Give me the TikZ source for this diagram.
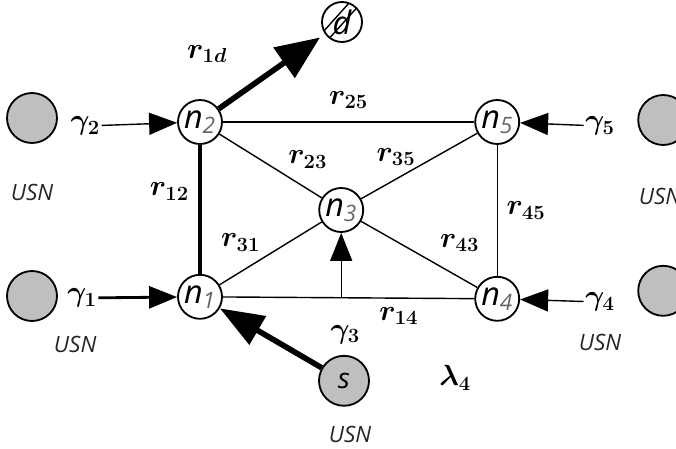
\documentclass[tikz,border=0pt]{standalone}
\usepackage{amsmath,amssymb}
\usepackage{fontspec}
\setsansfont{Open Sans}
\usepackage{tikz}
\usetikzlibrary{arrows.meta}

\begin{document}
\begin{tikzpicture}[every node/.style={font=\fontsize{21}{24}\selectfont\boldmath},
	>={Triangle[length=7mm, width=5.5mm]},
	v/.style={draw, circle, line width=1.3pt, fill=white, minimum size=1.1cm, inner sep=0pt, font=\fontsize{23}{25}\selectfont\sffamily\itshape},
	usn/.style={draw, circle, line width=1.3pt, fill=gray!50, minimum size=1.25cm, inner sep=0pt},
	usnlab/.style={font=\fontsize{16}{18}\selectfont\sffamily\itshape, text=black!85},
	edge/.style={line width=1pt}]
	\useasboundingbox (0,0) rectangle (16.9,11.2);
	\node[v] (n2) at (5.0,8.15) {n\textsubscript{\color{black!60}2}};
	\node[v] (n5) at (12.43,8.15) {n\textsubscript{\color{black!60}5}};
	\node[v] (n3) at (8.53,5.95) {n\textsubscript{\color{black!60}3}};
	\node[v] (n1) at (5.0,3.78) {n\textsubscript{\color{black!60}1}};
	\node[v] (n4) at (12.43,3.73) {n\textsubscript{\color{black!60}4}};
	\node[v, minimum size=1cm, path picture={
		\draw[line width=1pt] ([xshift=-4mm]path picture bounding box.south) -- ([xshift=5mm]path picture bounding box.north);
		\draw[line width=1pt] ([xshift=-7mm]path picture bounding box.south) -- ([xshift=2mm]path picture bounding box.north);}] (d) at (8.55,10.65) {d};
	\node[usn, font=\fontsize{20}{22}\selectfont\sffamily\itshape] (S) at (8.6,1.68) {s};
	\node[usn] (u2) at (0.8,8.25) {};
	\node[usn] (u1) at (0.8,3.8) {};
	\node[usn] (u5) at (16.58,8.2) {};
	\node[usn] (u4) at (16.58,3.93) {};
	\node[usnlab] (t2) at (0.8,6.4) {USN};
	\node[usnlab] (t1) at (1.88,2.58) {USN};
	\node[usnlab] (t5) at (16.5,6.28) {USN};
	\node[usnlab] (t4) at (15.0,2.65) {USN};
	\node[usnlab] (ts) at (8.75,0.33) {USN};
	\node[inner sep=1pt] (g2) at (2.13,8.05) {$\gamma_2$};
	\node[inner sep=1pt] (g1) at (2.05,3.75) {$\gamma_1$};
	\node[inner sep=1pt] (g5) at (15.0,8.05) {$\gamma_5$};
	\node[inner sep=1pt] (g4) at (15.0,3.65) {$\gamma_4$};
	\node (g3) at (8.63,2.83) {$\gamma_3$};
	\node (lam) at (11.38,1.75) {$\lambda_4$};
	\coordinate (c3) at (8.53,3.78);
	% links between the nodes
	\draw[edge] (n2) -- (n5) node[midway, above=2mm] (l25) {$r_{25}$};
	\draw[line width=3.5pt] (n2) -- (n1) node[pos=0.36, left=1mm] (l12) {$r_{12}$};
	\draw[edge] (n2) -- (n3) node[pos=0.62, above right=0mm] (l23) {$r_{23}$};
	\draw[edge] (n3) -- (n5) node[pos=0.3, above=2mm] (l35) {$r_{35}$};
	\draw[edge] (n1) -- (n3) node[pos=0.45, above left=0mm] (l31) {$r_{31}$};
	\draw[edge] (n3) -- (n4) node[pos=0.6, above right=1mm] (l43) {$r_{43}$};
	\draw[edge] (n5) -- (n4) node[midway, right=1mm] (l45) {$r_{45}$};
	\draw[edge] (n1) -- (n4) node[pos=0.7, below=1mm] (l14) {$r_{14}$};
	% flows
	\draw[->, line width=4pt, >={Triangle[length=11mm, width=9mm]}, shorten >=1.5mm] (n2) -- (d) node[pos=0.3, above left=4mm] (l1d) {$r_{1d}$};
	\draw[->, line width=4pt, >={Triangle[length=11mm, width=8mm]}] (S) -- (n1);
	\draw[->, edge] (g2) -- (n2);
	\draw[->, line width=2pt] (g1) -- (n1);
	\draw[->, edge] (g5) -- (n5);
	\draw[->, edge] (g4) -- (n4);
	\draw[->, edge] (c3) -- (n3);
\end{tikzpicture}
\end{document}
